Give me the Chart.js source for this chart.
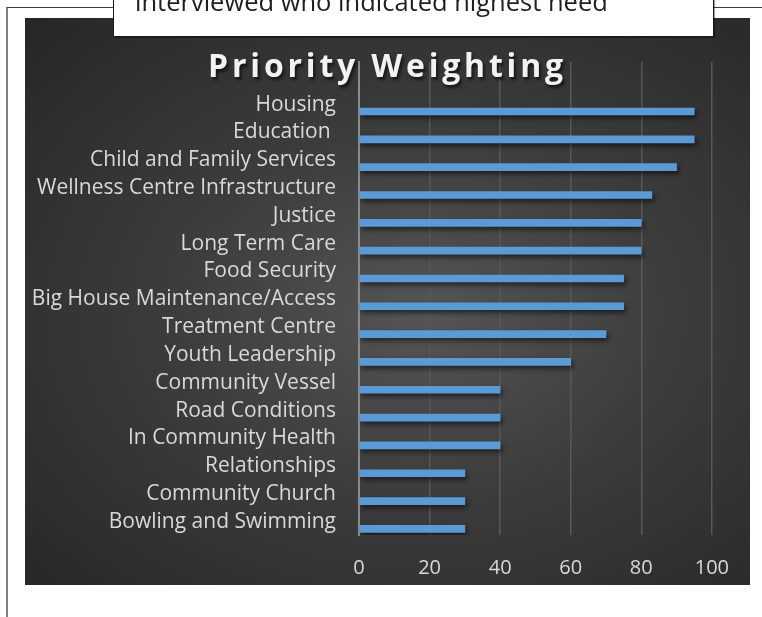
<!DOCTYPE html>
<html>
<head>
<meta charset="utf-8">
<script src="https://cdn.jsdelivr.net/npm/chart.js@4.4.1/dist/chart.umd.min.js"></script>
<style>
  html, body { margin: 0; padding: 0; background: #fff; width: 762px; height: 617px; overflow: hidden; }
  #frame { position: absolute; left: 6px; top: 7px; width: 800px; height: 700px;
           border-left: 2px solid #7f7f7f; border-top: 1px solid #3a3a3a; }
  #panel { position: absolute; left: 25px; top: 18px; width: 725px; height: 567px;
           background: radial-gradient(ellipse farthest-corner at 55% 52%, #555555 0%, #3c3c3c 45%, #262626 100%); }
  #panel canvas { position: absolute; left: 0; top: 0; }
  #title { position: absolute; left: 0; width: 725px; top: 31px; text-align: center;
           font: bold 32px "Open Sans", sans-serif; letter-spacing: 3.8px; color: #f2f2f2; line-height: 32px;
           text-shadow: 2px 3px 3px rgba(0,0,0,0.6); pointer-events: none; }
  #note { position: absolute; left: 113px; top: -20px; width: 599px; height: 55px; background: #fff;
          border: 1.5px solid #1a1a1a; box-shadow: 1px 1px 1px rgba(0,0,0,0.35); }
  #note span { position: absolute; left: 21px; top: 8px; font: 25.5px "Open Sans", sans-serif; line-height: 25.5px;
               color: #1e1e1e; white-space: nowrap; }
</style>
</head>
<body>
<div id="frame"></div>
<div id="panel">
  <canvas id="chart" width="725" height="567"></canvas>
  <div id="title">Priority Weighting</div>
</div>
<div id="note"><span>interviewed who indicated highest need</span></div>
<script>
const categories = ['Housing', 'Education ', 'Child and Family Services', 'Wellness Centre Infrastructure',
  'Justice', 'Long Term Care', 'Food Security', 'Big House Maintenance/Access', 'Treatment Centre',
  'Youth Leadership', 'Community Vessel', 'Road Conditions', 'In Community Health', 'Relationships',
  'Community Church', 'Bowling and Swimming'];
const weights = [95, 95, 90, 83, 80, 80, 75, 75, 70, 60, 40, 40, 40, 30, 30, 30];
const xTicks = [0, 20, 40, 60, 80, 100];

const labelColor = '#d9d9d9';

// soft drop shadow under the bars, like the office style
const barShadow = {
  id: 'barShadow',
  beforeDatasetsDraw(chart) {
    const ctx = chart.ctx;
    ctx.save();
    ctx.shadowColor = 'rgba(0, 0, 0, 0.55)';
    ctx.shadowBlur = 5;
    ctx.shadowOffsetX = 2;
    ctx.shadowOffsetY = 3;
  },
  afterDatasetsDraw(chart) {
    chart.ctx.restore();
  }
};

new Chart(document.getElementById('chart'), {
  type: 'bar',
  data: {
    datasets: [{
      label: 'Priority Weighting',
      data: weights.map((w, i) => ({ x: w, y: i })),
      backgroundColor: '#5b9bd5',
      barThickness: 7
    }]
  },
  options: {
    indexAxis: 'y',
    responsive: false,
    animation: false,
    layout: { autoPadding: false, padding: { left: 0, right: 33, top: 44, bottom: 0 } },
    plugins: { legend: { display: false }, tooltip: { enabled: false } },
    scales: {
      x: {
        type: 'linear',
        min: 0,
        max: 100,
        afterBuildTicks: (axis) => { axis.ticks = xTicks.map(v => ({ value: v })); },
        afterFit: (axis) => { axis.height = 50; },
        grid: { color: '#585858', lineWidth: 1.5, drawTicks: false },
        border: { display: false },
        ticks: { color: labelColor, font: { family: 'Open Sans', size: 20 }, padding: 21 }
      },
      y: {
        type: 'linear',
        reverse: true,
        offset: false,
        min: -1.78,
        max: 15.22,
        afterBuildTicks: (axis) => { axis.ticks = categories.map((c, i) => ({ value: i })); },
        afterFit: (axis) => { axis.width = 334; },
        grid: { display: false, drawTicks: false, offset: false },
        border: { display: true, color: '#8c8c8c', width: 2 },
        ticks: {
          color: labelColor,
          font: { family: 'Open Sans', size: 21 },
          padding: 23,
          labelOffset: -7,
          autoSkip: false,
          callback: (v) => categories[v] ?? ''
        }
      }
    }
  },
  plugins: [barShadow]
});
</script>
</body>
</html>
